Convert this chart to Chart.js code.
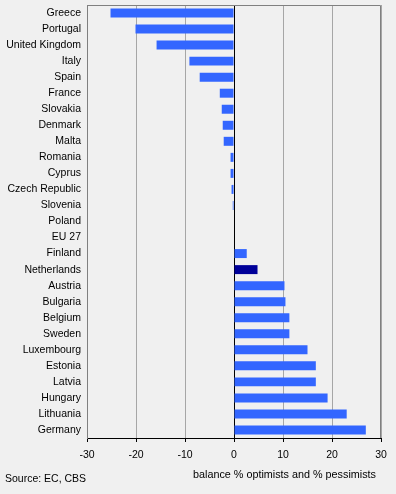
<!DOCTYPE html>
<html>
<head>
<meta charset="utf-8">
<script src="https://cdn.jsdelivr.net/npm/chart.js@4/dist/chart.umd.min.js"></script>
<style>
  html, body { margin: 0; padding: 0; background: #f0f0f0; }
  #wrap { width: 396px; height: 494px; position: relative; }
</style>
</head>
<body>
<div id="wrap"><canvas id="myChart" width="396" height="494"></canvas></div>
<script>
// data
const countries = ['Greece', 'Portugal', 'United Kingdom', 'Italy', 'Spain', 'France', 'Slovakia',
    'Denmark', 'Malta', 'Romania', 'Cyprus', 'Czech Republic', 'Slovenia', 'Poland', 'EU 27',
    'Finland', 'Netherlands', 'Austria', 'Bulgaria', 'Belgium', 'Sweden', 'Luxembourg',
    'Estonia', 'Latvia', 'Hungary', 'Lithuania', 'Germany'];
const balance = [-25.2, -20.1, -15.8, -9.1, -7.0, -2.9, -2.5, -2.3, -2.1, -0.7, -0.7, -0.5, -0.25, 0, 0,
    2.6, 4.8, 10.3, 10.5, 11.3, 11.3, 15.0, 16.7, 16.7, 19.1, 23.0, 26.9];
const xTicks = [-30, -20, -10, 0, 10, 20, 30];
const highlight = 'Netherlands';

const source = 'Source: EC, CBS';
const axisLabel = 'balance % optimists and % pessimists';

const font = { family: '"Liberation Sans", Arial, sans-serif', size: 10.5 };

// frame + footer texts
const framePlugin = {
    id: 'frame',
    beforeDatasetsDraw(chart) {
        const a = chart.chartArea;
        const ctx = chart.ctx;
        ctx.save();
        ctx.strokeStyle = '#808080';
        ctx.lineWidth = 1;
        ctx.beginPath();
        ctx.moveTo(a.left + 0.5, a.bottom);
        ctx.lineTo(a.left + 0.5, a.top + 0.5);
        ctx.lineTo(a.right - 0.5, a.top + 0.5);
        ctx.lineTo(a.right - 0.5, a.bottom);
        ctx.stroke();
        ctx.restore();
    },
    afterDraw(chart) {
        const ctx = chart.ctx;
        ctx.save();
        ctx.fillStyle = '#000';
        ctx.textBaseline = 'middle';
        ctx.font = '10.5px "Liberation Sans", Arial, sans-serif';
        ctx.textAlign = 'left';
        ctx.fillText(source, 5, 479);
        ctx.font = '10.8px "Liberation Sans", Arial, sans-serif';
        ctx.textAlign = 'right';
        ctx.fillText(axisLabel, 376, 475);
        ctx.restore();
    }
};

const data = {
    labels: countries,
    datasets: [{
        data: balance,
        backgroundColor: countries.map(c => c === highlight ? '#000099' : '#3366ff'),
        barPercentage: 0.56,
        categoryPercentage: 1.0
    }]
};

const config = {
    type: 'bar',
    data,
    options: {
        indexAxis: 'y',
        responsive: false,
        animation: false,
        layout: { padding: { top: 5, right: 15, left: 0, bottom: 0 } },
        plugins: {
            legend: { display: false },
            tooltip: { enabled: false }
        },
        scales: {
            x: {
                min: -30,
                max: 30,
                afterFit(scale) {
                    scale.height = 56;
                    scale.paddingLeft = 0;
                    scale.paddingRight = 0;
                },
                afterBuildTicks(scale) { scale.ticks = xTicks.map(v => ({ value: v })); },
                ticks: { color: '#000', font, padding: 7, maxRotation: 0 },
                grid: {
                    color: ctx => ctx.tick && ctx.tick.value === 0 ? '#000' : '#a6a6a6',
                    tickColor: '#000',
                    tickLength: 4,
                    drawOnChartArea: true
                },
                border: { display: true, color: '#000' }
            },
            y: {
                afterFit(scale) {
                    scale.width = 87;
                    scale.paddingTop = 0;
                    scale.paddingBottom = 0;
                },
                ticks: { color: '#000', font, padding: 6, autoSkip: false },
                grid: { display: false, drawTicks: false },
                border: { display: true, color: '#808080' }
            }
        }
    },
    plugins: [framePlugin]
};

const myChart = new Chart(document.getElementById('myChart'), config);
</script>
</body>
</html>
